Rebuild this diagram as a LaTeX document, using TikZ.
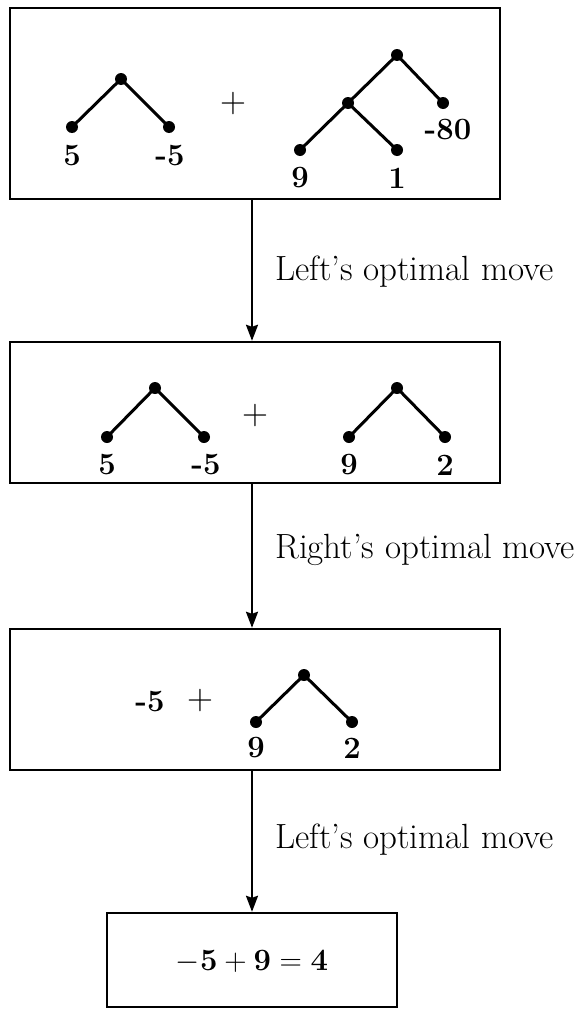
\RequirePackage{fix-cm}
\documentclass[tikz,border=0pt]{standalone}
\usetikzlibrary{arrows.meta}
\begin{document}
\begin{tikzpicture}[x=1pt,y=-1pt,
  frame/.style={draw, line width=2.4pt, inner sep=0pt},
  dot/.style={circle, fill, inner sep=0pt, minimum size=12pt},
  edge/.style={line width=3pt},
  lab/.style={font=\fontsize{31}{36}\selectfont\bfseries, inner sep=0pt},
  sym/.style={font=\fontsize{36}{42}\selectfont, inner sep=0pt},
  txt/.style={font=\fontsize{35}{42}\selectfont, inner sep=0pt, anchor=west},
  arr/.style={line width=2.2pt, -{Stealth[length=16pt,width=12pt,inset=2pt]}}]
\useasboundingbox (0,0) rectangle (579,1009);

% boxes
\node[frame, minimum width=490pt, minimum height=191pt] (b1) at (255,103.5) {};
\node[frame, minimum width=490pt, minimum height=141pt] (b2) at (255,412.5) {};
\node[frame, minimum width=490pt, minimum height=141pt] (b3) at (255,699.5) {};
\node[frame, minimum width=290pt, minimum height=94pt] (b4) at (252,960) {};

% box 1
\node[dot] (a1r) at (121,79) {};
\node[dot] (a1l) at (72,127) {};
\node[dot] (a1m) at (169,127) {};
\draw[edge] (a1l.center) -- (a1r.center) -- (a1m.center);
\node[lab] (a1lt) at (72,156) {5};
\node[lab] (a1mt) at (170,156) {-5};
\node[sym] (p1) at (233,103) {$+$};
\node[dot] (c1r) at (397,55) {};
\node[dot] (c1i) at (348,103) {};
\node[dot] (c1x) at (443,103) {};
\node[dot] (c1a) at (300,150) {};
\node[dot] (c1b) at (397,150) {};
\draw[edge] (c1x.center) -- (c1r.center) -- (c1i.center);
\draw[edge] (c1a.center) -- (c1i.center) -- (c1b.center);
\node[lab] (c1xt) at (448,130) {-80};
\node[lab] (c1at) at (300,178) {9};
\node[lab] (c1bt) at (397,178) {1};

% box 2
\node[dot] (a2r) at (155,388) {};
\node[dot] (a2l) at (107,437) {};
\node[dot] (a2m) at (204,437) {};
\draw[edge] (a2l.center) -- (a2r.center) -- (a2m.center);
\node[lab] (a2lt) at (107,465) {5};
\node[lab] (a2mt) at (206,465) {-5};
\node[sym] (p2) at (255,415) {$+$};
\node[dot] (c2r) at (397,388) {};
\node[dot] (c2l) at (349,437) {};
\node[dot] (c2m) at (445,437) {};
\draw[edge] (c2l.center) -- (c2r.center) -- (c2m.center);
\node[lab] (c2lt) at (349,465) {9};
\node[lab] (c2mt) at (445,465) {2};

% box 3
\node[lab] (v3) at (150,702) {-5};
\node[sym] (p3) at (200,700) {$+$};
\node[dot] (c3r) at (304,675) {};
\node[dot] (c3l) at (256,722) {};
\node[dot] (c3m) at (352,722) {};
\draw[edge] (c3l.center) -- (c3r.center) -- (c3m.center);
\node[lab] (c3lt) at (256,748) {9};
\node[lab] (c3mt) at (352,748) {2};

% box 4
\node[sym, font=\fontsize{31}{36}\selectfont] (res) at (252,962) {$\mathbf{-5+9=4}$};

% arrows
\draw[arr] ([xshift=-3pt]b1.south) -- ([xshift=-3pt]b2.north);
\draw[arr] ([xshift=-3pt]b2.south) -- ([xshift=-3pt]b3.north);
\draw[arr] ([xshift=-3pt]b3.south) -- (b4.north);

\node[txt] (t1) at (275,272) {Left's optimal move};
\node[txt] (t2) at (275,550) {Right's optimal move};
\node[txt] (t3) at (275,840) {Left's optimal move};
\end{tikzpicture}
\end{document}
